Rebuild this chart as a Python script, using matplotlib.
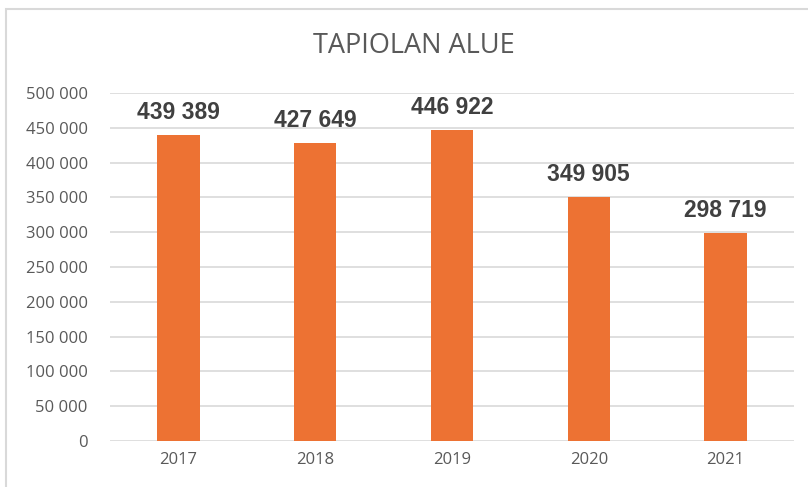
import matplotlib.pyplot as plt
from matplotlib.patches import Rectangle

years = ["2017", "2018", "2019", "2020", "2021"]
values = [439389, 427649, 446922, 349905, 298719]
y_ticks = [0, 50000, 100000, 150000, 200000, 250000, 300000, 350000, 400000, 450000, 500000]


def fmt(v):
    # Finnish style thousands separator (space)
    return f"{v:,}".replace(",", " ")


fig = plt.figure(figsize=(8.08, 4.87), dpi=100)
ax = fig.add_axes([110 / 808, 1 - 441 / 487, 684 / 808, 348 / 487])

ax.bar(range(len(years)), values, width=0.31, color="#ED7233", zorder=3)
for i, v in enumerate(values):
    ax.text(i, v + 16000, fmt(v), ha="center", va="bottom", fontsize=16.5,
            fontweight="bold", color="#404040", family="Liberation Sans")

ax.set_xlim(-0.5, len(years) - 0.5)
ax.set_ylim(0, 500000)
ax.set_yticks(y_ticks)
ax.set_yticklabels([fmt(t) for t in y_ticks])
ax.set_xticks(range(len(years)))
ax.set_xticklabels(years)
ax.tick_params(length=0, labelsize=12, labelcolor="#595959", pad=8)
ax.tick_params(axis="y", pad=16)
for lab in ax.get_xticklabels() + ax.get_yticklabels():
    lab.set_family("Open Sans")
ax.grid(axis="y", color="#D9D9D9", linewidth=1.2, zorder=0)
for s in ax.spines.values():
    s.set_visible(False)

fig.text(414 / 808, 1 - 46 / 487, "TAPIOLAN ALUE", ha="center", va="center",
         fontsize=19.5, color="#595959", family="Open Sans")

# chart frame, cut off at the right and bottom like in the screenshot
fig.patches.append(Rectangle((6 / 808, -0.1), 1.1, 1 - 9 / 487 + 0.1,
                             transform=fig.transFigure, fill=False,
                             edgecolor="#D9D9D9", linewidth=1.5))

fig.savefig("out.png", dpi=100)
